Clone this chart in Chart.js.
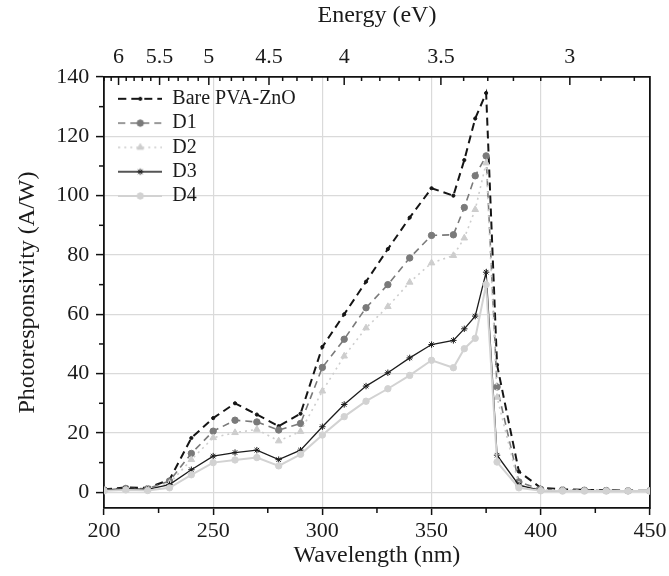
<!DOCTYPE html>
<html>
<head>
<meta charset="utf-8">
<script src="https://cdn.jsdelivr.net/npm/chart.js@4.4.1/dist/chart.umd.min.js"></script>
<style>
  html, body { margin: 0; padding: 0; background: #ffffff; }
  #wrap { width: 669px; height: 576px; position: relative; }
</style>
</head>
<body>
<div id="wrap"><canvas id="c" width="669" height="576"></canvas></div>
<script>
// ---------------- data ----------------
const wavelength = [200,210,220,230,240,250,260,270,280,290,300,310,320,330,340,350,360,365,370,375,380,390,400,410,420,430,440,450];
const bareZnO = [1.0,1.6,1.5,4.2,18.3,25.0,30.0,26.2,22.3,26.5,49.0,60.0,71.0,82.0,92.6,102.5,100.0,112.0,126.0,134.6,43.0,7.0,1.5,1.0,0.8,0.7,0.6,0.5];
const d1 = [0.8,1.3,1.2,3.8,13.1,20.6,24.3,23.7,21.0,23.2,42.1,51.6,62.2,70.0,79.0,86.6,86.8,96.0,106.7,113.4,35.5,3.5,1.0,0.8,0.7,0.6,0.5,0.5];
const d2 = [0.7,1.0,1.0,3.0,11.0,18.4,20.1,21.2,17.3,20.5,34.1,45.9,55.4,62.6,70.8,77.3,79.8,85.7,95.3,111.0,32.0,2.5,0.8,0.7,0.6,0.5,0.5,0.4];
const d3 = [0.8,1.2,1.0,2.6,7.6,12.2,13.4,14.2,11.0,14.2,22.1,29.6,35.8,40.3,45.3,49.8,51.2,55.1,59.4,74.2,12.5,2.4,0.6,0.5,0.5,0.5,0.5,0.5];
const d4 = [0.5,0.8,0.6,1.5,5.9,10.0,10.9,11.7,8.9,12.8,19.3,25.5,30.7,34.9,39.4,44.5,42.0,48.4,51.9,70.0,10.2,1.5,0.5,0.4,0.4,0.4,0.4,0.4];
const seriesLabels = ['Bare PVA-ZnO','D1','D2','D3','D4'];

const xTicks = [200,250,300,350,400,450];
const xMinorTicks = [225,275,325,375,425];
const yTicks = [0,20,40,60,80,100,120,140];
const yMinorTicks = [10,30,50,70,90,110,130];
const energyLabels = [6,5.5,5,4.5,4,3.5,3];
const energyMinor = [6.2,6.1,6.0,5.9,5.8,5.7,5.6,5.5,5.4,5.3,5.2,5.1,5.0,4.9,4.8,4.7,4.6,4.5,4.4,4.3,4.2,4.1,4.0,3.9,3.8,3.7,3.6,3.5,3.4,3.3,3.2,3.1,3.0,2.9,2.8];
const HC = 1240; // eV*nm

// ---------------- styles ----------------
const FONT = 'Liberation Serif';
Chart.defaults.font.family = FONT;
Chart.defaults.color = '#1a1a1a';

const styles = [
  {color:'#151515', width:2.0, dash:[8,5], pointStyle:'circle', r:1.6, fill:'#151515'},
  {color:'#7a7a7a', width:1.6, dash:[7,5], pointStyle:'circle', r:3.2, fill:'#7a7a7a'},
  {color:'#cdcdcd', width:1.6, dash:[2,4], pointStyle:'triangle', r:3.8, fill:'#cdcdcd'},
  {color:'#1c1c1c', width:1.3, dash:[], pointStyle:'star', r:3.2, fill:'#1c1c1c'},
  {color:'#d2d2d2', width:2.0, dash:[], pointStyle:'circle', r:3.2, fill:'#d2d2d2'}
];
const seriesValues = [bareZnO, d1, d2, d3, d4];

const datasets = seriesValues.map((vals, i) => ({
  label: seriesLabels[i],
  data: wavelength.map((w, k) => ({x: w, y: vals[k]})),
  borderColor: styles[i].color,
  backgroundColor: styles[i].fill,
  borderWidth: styles[i].width,
  borderDash: styles[i].dash,
  pointStyle: styles[i].pointStyle,
  pointRadius: styles[i].r,
  pointBackgroundColor: styles[i].fill,
  pointBorderColor: styles[i].color,
  pointBorderWidth: 1,
  tension: 0,
  fill: false,
  order: 5 - i
}));

function legendIcon(st) {
  const c = document.createElement('canvas');
  c.width = 44; c.height = 14;
  const g = c.getContext('2d');
  g.strokeStyle = st.color; g.lineWidth = st.width;
  g.setLineDash(st.dash);
  g.beginPath(); g.moveTo(0, 7); g.lineTo(44, 7); g.stroke();
  g.setLineDash([]);
  g.fillStyle = st.fill; g.strokeStyle = st.color; g.lineWidth = 1;
  if (Chart.helpers && Chart.helpers.drawPoint) {
    Chart.helpers.drawPoint(g, {pointStyle: st.pointStyle, radius: st.r, rotation: 0, borderWidth: 1}, 22, 7);
  } else {
    g.beginPath(); g.arc(22, 7, st.r, 0, Math.PI * 2); g.fill();
  }
  return c;
}
const icons = styles.map(legendIcon);

// ------------- plugins -------------
const axisDecor = {
  id: 'axisDecor',
  afterLayout(chart) {
    const lg = chart.legend, ca = chart.chartArea;
    if (lg) {
      lg.left = ca.left + 10; lg.top = ca.top + 7.5;
      lg.right = lg.left + lg.width; lg.bottom = ca.bottom;
    }
  },
  afterDraw(chart) {
    const ctx = chart.ctx;
    const sx = chart.scales.x, sy = chart.scales.y, st = chart.scales.xTop;
    ctx.save();
    ctx.strokeStyle = '#111'; ctx.lineWidth = 1.5;
    const seg = (a, b, c, d) => { ctx.beginPath(); ctx.moveTo(a, b); ctx.lineTo(c, d); ctx.stroke(); };
    xMinorTicks.forEach(v => { const p = sx.getPixelForValue(v); seg(p, sx.top, p, sx.top + 5); });
    yMinorTicks.forEach(v => { const p = sy.getPixelForValue(v); seg(sy.right - 5, p, sy.right, p); });
    energyMinor.forEach(E => {
      const p = st.getPixelForValue(HC / E);
      const major = energyLabels.some(m => Math.abs(m - E) < 1e-6);
      seg(p, st.bottom, p, st.bottom + (major ? 8 : 4));
    });
    ctx.restore();
  }
};

const borderOpt = {display: true, color: '#111', width: 1.8};

new Chart(document.getElementById('c'), {
  type: 'line',
  data: { datasets },
  options: {
    responsive: false,
    animation: false,
    devicePixelRatio: 1,
    layout: { padding: { left: 0, right: 15, top: 0, bottom: 0 } },
    plugins: {
      tooltip: { enabled: false },
      legend: {
        display: true,
        position: 'chartArea',
        align: 'start',
        labels: {
          usePointStyle: true,
          pointStyleWidth: 44,
          padding: 4.3,
          color: '#1a1a1a',
          font: { family: FONT, size: 20 },
          generateLabels: (chart) => chart.data.datasets.map((ds, i) => ({
            text: ds.label,
            pointStyle: icons[i],
            datasetIndex: i,
            hidden: false,
            fontColor: '#1a1a1a',
            lineWidth: 0,
            strokeStyle: 'rgba(0,0,0,0)',
            fillStyle: 'rgba(0,0,0,0)'
          }))
        }
      }
    },
    scales: {
      x: {
        type: 'linear', position: 'bottom', min: 200, max: 450,
        afterBuildTicks: (s) => { s.ticks = xTicks.map(v => ({value: v})); },
        afterFit: (s) => { s.height = 68; },
        ticks: { autoSkip: false, maxRotation: 0, padding: 2.6, color: '#1a1a1a', font: { size: 22 } },
        grid: {
          color: (c) => (c.tick && (c.tick.value === 200 || c.tick.value === 450)) ? 'rgba(0,0,0,0)' : '#dadada',
          lineWidth: 1.2, tickColor: '#111', tickLength: 7, tickWidth: 1.5, drawTicks: true
        },
        border: borderOpt,
        title: { display: true, text: 'Wavelength (nm)', color: '#1a1a1a', font: { size: 24 }, padding: { top: 0, bottom: 5.6 } }
      },
      xTop: {
        type: 'linear', position: 'top', min: 200, max: 450,
        afterBuildTicks: (s) => { s.ticks = energyLabels.map(E => ({value: HC / E})); },
        afterFit: (s) => { s.height = 77; },
        ticks: {
          autoSkip: false, maxRotation: 0, padding: 6.8, color: '#1a1a1a', font: { size: 22 },
          callback: (v, i) => String(energyLabels[i])
        },
        grid: { display: false, drawTicks: false, drawOnChartArea: false },
        border: borderOpt,
        title: { display: true, text: 'Energy (eV)', color: '#1a1a1a', font: { size: 24 }, padding: { top: 1.6, bottom: 0 } }
      },
      y: {
        type: 'linear', position: 'left', min: -5.3, max: 140,
        afterBuildTicks: (s) => { s.ticks = yTicks.map(v => ({value: v})); },
        afterFit: (s) => { s.width = 104; },
        ticks: { autoSkip: false, padding: 6.7, color: '#1a1a1a', font: { size: 22 } },
        grid: {
          color: (c) => (c.tick && c.tick.value === 140) ? 'rgba(0,0,0,0)' : '#dadada',
          lineWidth: 1.2, tickColor: '#111', tickLength: 8, tickWidth: 1.5, drawTicks: true
        },
        border: borderOpt,
        title: { display: true, text: 'Photoresponsivity (A/W)', color: '#1a1a1a', font: { size: 24 }, padding: { top: 13.6, bottom: 0 } }
      },
      y2: {
        type: 'linear', position: 'right', min: -5.3, max: 140,
        afterFit: (s) => { s.width = 0; },
        ticks: { display: false },
        grid: { display: false, drawTicks: false, drawOnChartArea: false },
        border: borderOpt
      }
    }
  },
  plugins: [axisDecor]
});
</script>
</body>
</html>
